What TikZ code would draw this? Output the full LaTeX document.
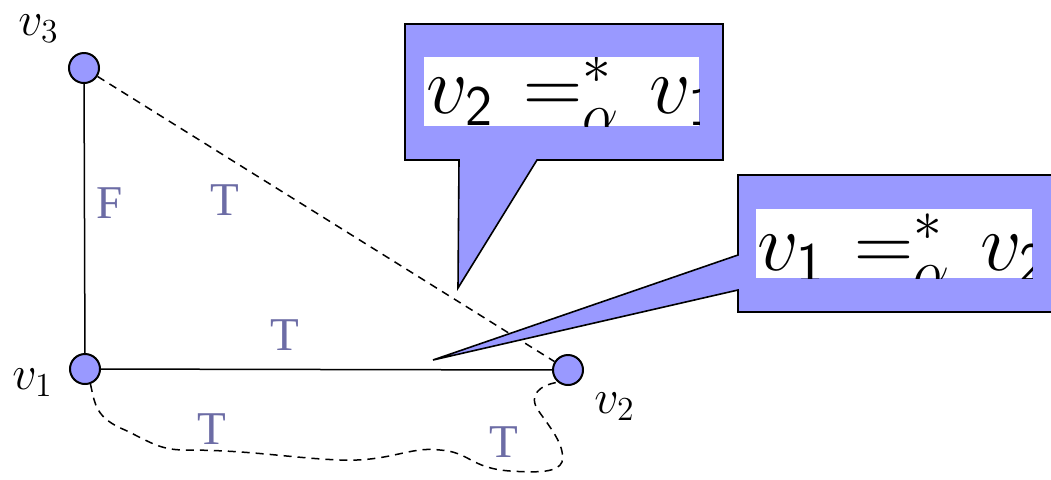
\RequirePackage{fix-cm}
\documentclass[tikz,border=0pt]{standalone}
\usepackage{fontspec}
\newfontfamily\lblfont{Liberation Serif}
\definecolor{nodefill}{RGB}{153,153,255}
\definecolor{lblcol}{RGB}{108,108,165}
\begin{document}
\begin{tikzpicture}[x=0.5pt,y=-0.5pt,
  vert/.style={circle, draw=black, line width=1pt, fill=nodefill, minimum size=15pt, inner sep=0pt},
  edgelbl/.style={font=\lblfont\fontsize{23.5}{23.5}\selectfont, text=lblcol, inner sep=0pt},
  vlbl/.style={font=\fontsize{24}{24}\selectfont, inner sep=0pt, anchor=base west},
  solidedge/.style={line width=0.75pt},
  dashedge/.style={line width=0.75pt, dash pattern=on 4pt off 3pt},
  calloutbox/.style={draw=black, line width=0.8pt, fill=nodefill},
  bigmath/.style={font=\fontsize{41}{41}\selectfont, inner sep=0pt, anchor=base west}
]
\useasboundingbox (0,0) rectangle (1051,479);
\clip (0,0) rectangle (1051,479);

% vertices
\node[vert] (v3) at (84,68) {};
\node[vert] (v1) at (85,369) {};
\node[vert] (v2) at (568,370) {};

% edges
\draw[solidedge] (v3) -- (v1);
\draw[solidedge] (v1) -- (v2);
\draw[dashedge] (v3) -- (v2);
\draw[dashedge] (v1.-70) .. controls (95,405) and (96,418) .. (125,430)
  .. controls (150,442) and (160,450) .. (185,450)
  .. controls (250,450) and (290,458) .. (340,460)
  .. controls (390,462) and (410,446) .. (440,450)
  .. controls (470,452) and (470,468) .. (510,471)
  .. controls (540,473) and (558,472) .. (562,462)
  .. controls (566,445) and (548,425) .. (538,410)
  .. controls (528,395) and (540,385) .. (v2.-130);

% edge labels
\node[edgelbl] (lF) at (110,203) {F};
\node[edgelbl] (lT1) at (225,200) {T};
\node[edgelbl] (lT2) at (285,335) {T};
\node[edgelbl] (lT3) at (212,429) {T};
\node[edgelbl] (lT4) at (504,442) {T};

% vertex labels
\node[vlbl] (n3) at (18,35) {$v_3$};
\node[vlbl] (n1) at (12,389) {$v_1$};
\node[vlbl] (n2) at (594,413) {$v_2$};

% callout 1
\coordinate (c1tip) at (458,288);
\draw[calloutbox] (405,24) -- (723,24) -- (723,160) -- (537,160) -- (c1tip) -- (459,160) -- (405,160) -- cycle;
\fill[white] (424,57) rectangle (699,126);
\begin{scope}
  \clip (424,57) rectangle (699,126);
  \node[bigmath] (eq1) at (426,113) {$v_{\mathsf{2}}\mkern1.6mu =^{*}_{\alpha}\mkern1.6mu v_{\mathsf{1}}$};
\end{scope}

% callout 2
\coordinate (c2tip) at (433,360);
\draw[calloutbox] (738,175) -- (1070,175) -- (1070,312) -- (738,312) -- (738,290) -- (c2tip) -- (738,255) -- cycle;
\fill[white] (756,209) rectangle (1032,278);
\begin{scope}
  \clip (756,209) rectangle (1032,278);
  \node[bigmath] (eq2) at (757,270) {$v_{\mathsf{1}}\mkern1.6mu =^{*}_{\alpha}\mkern1.6mu v_{\mathsf{2}}$};
\end{scope}
\end{tikzpicture}
\end{document}
